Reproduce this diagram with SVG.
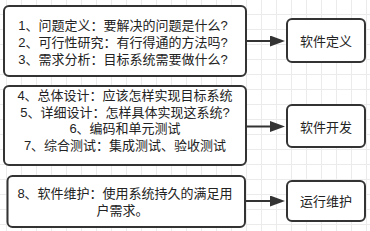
<svg xmlns="http://www.w3.org/2000/svg" width="370" height="231" viewBox="0 0 370 231">
  <style>
    .box { fill: #ffffff; stroke: #333333; stroke-width: 2; }
    .t { font-family: "Liberation Sans", "Noto Sans CJK SC", sans-serif; font-size: 13px; fill: #222222; text-anchor: middle; dominant-baseline: central; }
    .edge { stroke: #333333; stroke-width: 2; fill: none; }
  </style>
  <defs>
    <pattern id="grid" x="6" y="14" width="15" height="15" patternUnits="userSpaceOnUse">
      <path d="M0.5 0 V15 M0 0.5 H15" stroke="#ebebeb" stroke-width="1" fill="none"/>
    </pattern>
    <marker id="arrow" viewBox="0 0 15 11" refX="2" refY="5.5" markerWidth="15" markerHeight="11" markerUnits="userSpaceOnUse" orient="auto">
      <path d="M0,0 L15,5.5 L0,11 Z" fill="#333333"/>
    </marker>
  </defs>
  <rect x="0" y="0" width="370" height="231" fill="#ffffff"/>
  <rect x="0" y="0" width="370" height="231" fill="url(#grid)"/>

  <g id="connectors">
    <line class="edge" x1="246" y1="41" x2="272" y2="41" marker-end="url(#arrow)"/>
    <line class="edge" x1="246" y1="126.5" x2="272" y2="126.5" marker-end="url(#arrow)"/>
    <line class="edge" x1="245" y1="201" x2="272" y2="201" marker-end="url(#arrow)"/>
  </g>

  <g id="node-define-detail">
    <rect class="box" x="4" y="6" width="242" height="70" rx="5"/>
    <text class="t" x="123" y="25">1、问题定义：要解决的问题是什么?</text>
    <text class="t" x="123" y="42">2、可行性研究：有行得通的方法吗?</text>
    <text class="t" x="123" y="59">3、需求分析：目标系统需要做什么?</text>
  </g>

  <g id="node-develop-detail">
    <rect class="box" x="4" y="86" width="242" height="79" rx="5"/>
    <text class="t" x="125" y="95">4、总体设计：应该怎样实现目标系统</text>
    <text class="t" x="125" y="112">5、详细设计：怎样具体实现这系统?</text>
    <text class="t" x="125" y="128.5">6、编码和单元测试</text>
    <text class="t" x="125" y="145">7、综合测试：集成测试、验收测试</text>
  </g>

  <g id="node-maintain-detail">
    <rect class="box" x="7.5" y="176" width="237.5" height="51" rx="5"/>
    <text class="t" x="125" y="193">8、软件维护：使用系统持久的满足用</text>
    <text class="t" x="122.5" y="210">户需求。</text>
  </g>

  <g id="node-define">
    <rect class="box" x="287" y="19" width="78" height="43" rx="5"/>
    <text class="t" x="326" y="41">软件定义</text>
  </g>

  <g id="node-develop">
    <rect class="box" x="287" y="105" width="78" height="42" rx="5"/>
    <text class="t" x="326" y="127">软件开发</text>
  </g>

  <g id="node-maintain">
    <rect class="box" x="287" y="181" width="78" height="40" rx="5"/>
    <text class="t" x="326" y="201">运行维护</text>
  </g>
</svg>
